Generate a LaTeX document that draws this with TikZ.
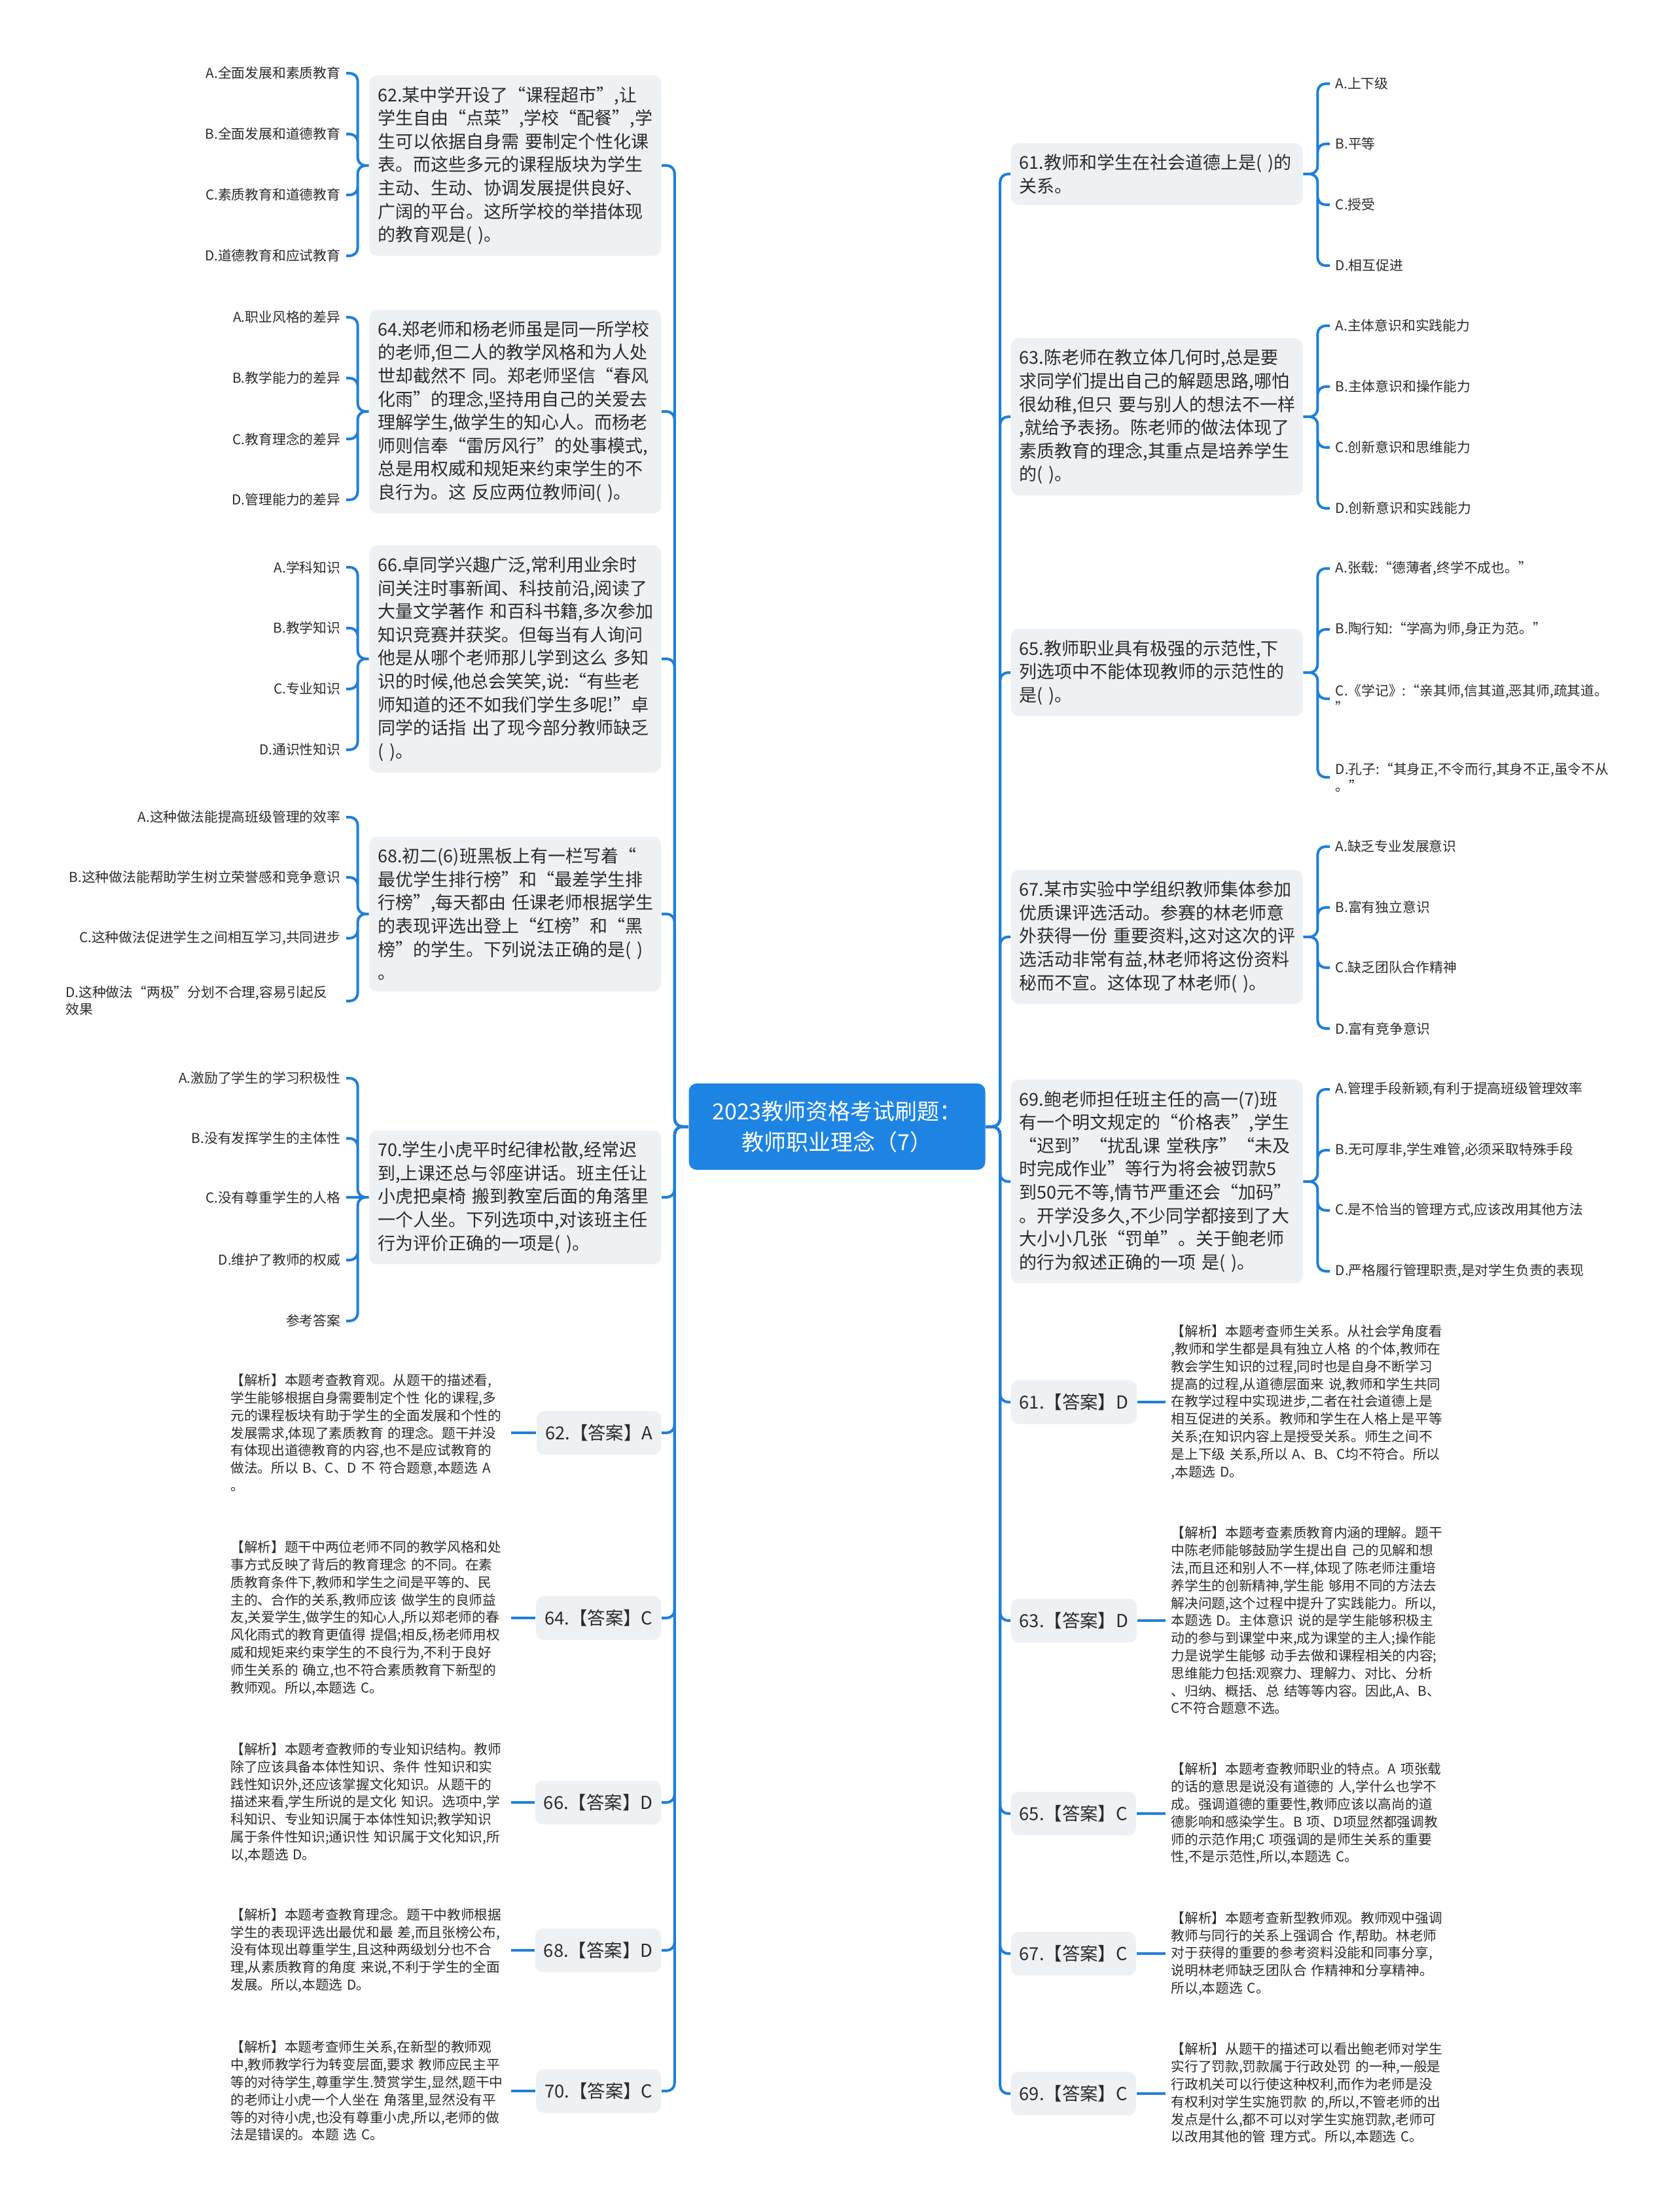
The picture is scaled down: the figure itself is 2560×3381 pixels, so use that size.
\documentclass[tikz,border=0pt]{standalone}
\usepackage{fontspec}
\setmainfont{Noto Sans CJK SC}
\usepackage{xcolor}
\usepackage{tikz}

\definecolor{linkblue}{HTML}{1F7FD8}
\definecolor{rootblue}{HTML}{1D84E3}
\definecolor{boxgray}{HTML}{EEF1F4}
\definecolor{textdark}{HTML}{2B2B2B}

\newcommand{\qfont}{\fontsize{2.7mm}{3.56mm}\selectfont}
\newcommand{\optfont}{\fontsize{2.08mm}{2.6mm}\selectfont}
\newcommand{\explfont}{\fontsize{2.07mm}{2.68mm}\selectfont}
\newcommand{\ansfont}{\fontsize{2.74mm}{3.3mm}\selectfont}
\newcommand{\rootfont}{\fontsize{3.4mm}{4.7mm}\selectfont}

\begin{document}
\begin{tikzpicture}[x=0.1mm, y=-0.1mm,
  link/.style={draw=linkblue, line width=0.4mm, rounded corners=1.2mm},
  rootbox/.style={fill=rootblue, text=white, rounded corners=1.2mm, minimum width=45.3mm, minimum height=13.2mm, align=center, font=\rootfont},
  qbox/.style={fill=boxgray, text=textdark, rounded corners=1.2mm, text width=42mm, align=left, inner xsep=1.3mm, inner ysep=1.7mm, font=\qfont},
  opt/.style={text=textdark, align=left, inner xsep=0.8mm, inner ysep=0.4mm, font=\optfont},
  ansbox/.style={fill=boxgray, text=textdark, rounded corners=1.2mm, inner xsep=1.3mm, minimum height=6.7mm, font=\ansfont},
  expl/.style={text=textdark, text width=42mm, align=left, inner xsep=0.8mm, font=\explfont}]
  \fill[white] (0,0) rectangle (2560,3381);
  \useasboundingbox (0,0) rectangle (2560,3381);

  % Root
  \node[rootbox] (root) at (1279,1722) {2023教师资格考试刷题：\\教师职业理念（7）};

  % Left questions
  \node[qbox, anchor=east] (q62) at (1011,253) {62.某中学开设了“课程超市”,让\\学生自由“点菜”,学校“配餐”,学\\生可以依据自身需~要制定个性化课\\表。而这些多元的课程版块为学生\\主动、生动、协调发展提供良好、\\广阔的平台。这所学校的举措体现\\的教育观是(~)。};
  \node[qbox, anchor=east] (q64) at (1011,629) {64.郑老师和杨老师虽是同一所学校\\的老师,但二人的教学风格和为人处\\世却截然不~同。郑老师坚信“春风\\化雨”的理念,坚持用自己的关爱去\\理解学生,做学生的知心人。而杨老\\师则信奉“雷厉风行”的处事模式,\\总是用权威和规矩来约束学生的不\\良行为。这~反应两位教师间(~)。};
  \node[qbox, anchor=east] (q66) at (1011,1007) {66.卓同学兴趣广泛,常利用业余时\\间关注时事新闻、科技前沿,阅读了\\大量文学著作~和百科书籍,多次参加\\知识竞赛并获奖。但每当有人询问\\他是从哪个老师那儿学到这么~多知\\识的时候,他总会笑笑,说:“有些老\\师知道的还不如我们学生多呢!”卓\\同学的话指~出了现今部分教师缺乏\\(~)。};
  \node[qbox, anchor=east] (q68) at (1011,1397) {68.初二(6)班黑板上有一栏写着“\\最优学生排行榜”和“最差学生排\\行榜”,每天都由~任课老师根据学生\\的表现评选出登上“红榜”和“黑\\榜”的学生。下列说法正确的是(~)\\。};
  \node[qbox, anchor=east] (q70) at (1011,1830) {70.学生小虎平时纪律松散,经常迟\\到,上课还总与邻座讲话。班主任让\\小虎把桌椅~搬到教室后面的角落里\\一个人坐。下列选项中,对该班主任\\行为评价正确的一项是(~)。};

  % Left options
  \node[opt, anchor=east] (q62a) at (529,112) {A.全面发展和素质教育};
  \node[opt, anchor=east] (q62b) at (529,205) {B.全面发展和道德教育};
  \node[opt, anchor=east] (q62c) at (529,298) {C.素质教育和道德教育};
  \node[opt, anchor=east] (q62d) at (529,391) {D.道德教育和应试教育};
  \node[opt, anchor=east] (q64a) at (529,485) {A.职业风格的差异};
  \node[opt, anchor=east] (q64b) at (529,578) {B.教学能力的差异};
  \node[opt, anchor=east] (q64c) at (529,671) {C.教育理念的差异};
  \node[opt, anchor=east] (q64d) at (529,764) {D.管理能力的差异};
  \node[opt, anchor=east] (q66a) at (529,867) {A.学科知识};
  \node[opt, anchor=east] (q66b) at (529,960) {B.教学知识};
  \node[opt, anchor=east] (q66c) at (529,1053) {C.专业知识};
  \node[opt, anchor=east] (q66d) at (529,1146) {D.通识性知识};
  \node[opt, anchor=east] (q68a) at (529,1249) {A.这种做法能提高班级管理的效率};
  \node[opt, anchor=east] (q68b) at (529,1341) {B.这种做法能帮助学生树立荣誉感和竞争意识};
  \node[opt, anchor=east] (q68c) at (529,1434) {C.这种做法促进学生之间相互学习,共同进步};
  \node[opt, anchor=east, text width=42mm] (q68d) at (529,1530) {D.这种做法“两极”分划不合理,容易引起反\\效果};
  \node[opt, anchor=east] (q70a) at (529,1648) {A.激励了学生的学习积极性};
  \node[opt, anchor=east] (q70b) at (529,1740) {B.没有发挥学生的主体性};
  \node[opt, anchor=east] (q70c) at (529,1830) {C.没有尊重学生的人格};
  \node[opt, anchor=east] (q70d) at (529,1926) {D.维护了教师的权威};
  \node[opt, anchor=east] (q70e) at (529,2019) {参考答案};

  % Left answers
  \node[ansbox, anchor=east] (a62) at (1011,2190) {62.【答案】A};
  \node[ansbox, anchor=east] (a64) at (1011,2473) {64.【答案】C};
  \node[ansbox, anchor=east] (a66) at (1011,2755) {66.【答案】D};
  \node[ansbox, anchor=east] (a68) at (1011,2981) {68.【答案】D};
  \node[ansbox, anchor=east] (a70) at (1011,3196) {70.【答案】C};

  % Left explanations
  \node[expl, anchor=east] (e62) at (781,2190) {【解析】本题考查教育观。从题干的描述看,\\学生能够根据自身需要制定个性 化的课程,多\\元的课程板块有助于学生的全面发展和个性的\\发展需求,体现了素质教育 的理念。题干并没\\有体现出道德教育的内容,也不是应试教育的\\做法。所以 B、C、D 不 符合题意,本题选 A\\。};
  \node[expl, anchor=east] (e64) at (781,2473) {【解析】题干中两位老师不同的教学风格和处\\事方式反映了背后的教育理念 的不同。在素\\质教育条件下,教师和学生之间是平等的、民\\主的、合作的关系,教师应该 做学生的良师益\\友,关爱学生,做学生的知心人,所以郑老师的春\\风化雨式的教育更值得 提倡;相反,杨老师用权\\威和规矩来约束学生的不良行为,不利于良好\\师生关系的 确立,也不符合素质教育下新型的\\教师观。所以,本题选 C。};
  \node[expl, anchor=east] (e66) at (781,2755) {【解析】本题考查教师的专业知识结构。教师\\除了应该具备本体性知识、条件 性知识和实\\践性知识外,还应该掌握文化知识。从题干的\\描述来看,学生所说的是文化 知识。选项中,学\\科知识、专业知识属于本体性知识;教学知识\\属于条件性知识;通识性 知识属于文化知识,所\\以,本题选 D。};
  \node[expl, anchor=east] (e68) at (781,2981) {【解析】本题考查教育理念。题干中教师根据\\学生的表现评选出最优和最 差,而且张榜公布,\\没有体现出尊重学生,且这种两级划分也不合\\理,从素质教育的角度 来说,不利于学生的全面\\发展。所以,本题选 D。};
  \node[expl, anchor=east] (e70) at (781,3196) {【解析】本题考查师生关系,在新型的教师观\\中,教师教学行为转变层面,要求 教师应民主平\\等的对待学生,尊重学生.赞赏学生,显然,题干中\\的老师让小虎一个人坐在 角落里,显然没有平\\等的对待小虎,也没有尊重小虎,所以,老师的做\\法是错误的。本题 选 C。};

  % Right questions
  \node[qbox, anchor=west] (q61) at (1544,266) {61.教师和学生在社会道德上是(~)的\\关系。};
  \node[qbox, anchor=west] (q63) at (1544,637) {63.陈老师在教立体几何时,总是要\\求同学们提出自己的解题思路,哪怕\\很幼稚,但只~要与别人的想法不一样\\,就给予表扬。陈老师的做法体现了\\素质教育的理念,其重点是培养学生\\的(~)。};
  \node[qbox, anchor=west] (q65) at (1544,1028) {65.教师职业具有极强的示范性,下\\列选项中不能体现教师的示范性的\\是(~)。};
  \node[qbox, anchor=west] (q67) at (1544,1432) {67.某市实验中学组织教师集体参加\\优质课评选活动。参赛的林老师意\\外获得一份~重要资料,这对这次的评\\选活动非常有益,林老师将这份资料\\秘而不宣。这体现了林老师(~)。};
  \node[qbox, anchor=west] (q69) at (1544,1806) {69.鲍老师担任班主任的高一(7)班\\有一个明文规定的“价格表”,学生\\“迟到”“扰乱课~堂秩序”“未及\\时完成作业”等行为将会被罚款5\\到50元不等,情节严重还会“加码”\\。开学没多久,不少同学都接到了大\\大小小几张“罚单”。关于鲍老师\\的行为叙述正确的一项~是(~)。};

  % Right options
  \node[opt, anchor=west] (q61a) at (2032,128) {A.上下级};
  \node[opt, anchor=west] (q61b) at (2032,220) {B.平等};
  \node[opt, anchor=west] (q61c) at (2032,313) {C.授受};
  \node[opt, anchor=west] (q61d) at (2032,406) {D.相互促进};
  \node[opt, anchor=west] (q63a) at (2032,498) {A.主体意识和实践能力};
  \node[opt, anchor=west] (q63b) at (2032,591) {B.主体意识和操作能力};
  \node[opt, anchor=west] (q63c) at (2032,684) {C.创新意识和思维能力};
  \node[opt, anchor=west] (q63d) at (2032,777) {D.创新意识和实践能力};
  \node[opt, anchor=west] (q65a) at (2032,869) {A.张载:“德薄者,终学不成也。”};
  \node[opt, anchor=west] (q65b) at (2032,962) {B.陶行知:“学高为师,身正为范。”};
  \node[opt, anchor=west] (q65c) at (2032,1068) {C.《学记》:“亲其师,信其道,恶其师,疏其道。\\”};
  \node[opt, anchor=west] (q65d) at (2032,1188) {D.孔子:“其身正,不令而行,其身不正,虽令不从\\。”};
  \node[opt, anchor=west] (q67a) at (2032,1294) {A.缺乏专业发展意识};
  \node[opt, anchor=west] (q67b) at (2032,1387) {B.富有独立意识};
  \node[opt, anchor=west] (q67c) at (2032,1479) {C.缺乏团队合作精神};
  \node[opt, anchor=west] (q67d) at (2032,1572) {D.富有竞争意识};
  \node[opt, anchor=west] (q69a) at (2032,1665) {A.管理手段新颖,有利于提高班级管理效率};
  \node[opt, anchor=west] (q69b) at (2032,1758) {B.无可厚非,学生难管,必须采取特殊手段};
  \node[opt, anchor=west] (q69c) at (2032,1850) {C.是不恰当的管理方式,应该改用其他方法};
  \node[opt, anchor=west] (q69d) at (2032,1943) {D.严格履行管理职责,是对学生负责的表现};

  % Right answers
  \node[ansbox, anchor=west] (a61) at (1544,2143) {61.【答案】D};
  \node[ansbox, anchor=west] (a63) at (1544,2477) {63.【答案】D};
  \node[ansbox, anchor=west] (a65) at (1544,2772) {65.【答案】C};
  \node[ansbox, anchor=west] (a67) at (1544,2986) {67.【答案】C};
  \node[ansbox, anchor=west] (a69) at (1544,3200) {69.【答案】C};

  % Right explanations
  \node[expl, anchor=west] (e61) at (1781,2143) {【解析】本题考查师生关系。从社会学角度看\\,教师和学生都是具有独立人格 的个体,教师在\\教会学生知识的过程,同时也是自身不断学习\\提高的过程,从道德层面来 说,教师和学生共同\\在教学过程中实现进步,二者在社会道德上是\\相互促进的关系。教师和学生在人格上是平等\\关系;在知识内容上是授受关系。师生之间不\\是上下级 关系,所以 A、B、C均不符合。所以\\,本题选 D。};
  \node[expl, anchor=west] (e63) at (1781,2477) {【解析】本题考查素质教育内涵的理解。题干\\中陈老师能够鼓励学生提出自 己的见解和想\\法,而且还和别人不一样,体现了陈老师注重培\\养学生的创新精神,学生能 够用不同的方法去\\解决问题,这个过程中提升了实践能力。所以,\\本题选 D。主体意识 说的是学生能够积极主\\动的参与到课堂中来,成为课堂的主人;操作能\\力是说学生能够 动手去做和课程相关的内容;\\思维能力包括:观察力、理解力、对比、分析\\、归纳、概括、总 结等等内容。因此,A、B、\\C不符合题意不选。};
  \node[expl, anchor=west] (e65) at (1781,2772) {【解析】本题考查教师职业的特点。A 项张载\\的话的意思是说没有道德的 人,学什么也学不\\成。强调道德的重要性,教师应该以高尚的道\\德影响和感染学生。B 项、D项显然都强调教\\师的示范作用;C 项强调的是师生关系的重要\\性,不是示范性,所以,本题选 C。};
  \node[expl, anchor=west] (e67) at (1781,2986) {【解析】本题考查新型教师观。教师观中强调\\教师与同行的关系上强调合 作,帮助。林老师\\对于获得的重要的参考资料没能和同事分享,\\说明林老师缺乏团队合 作精神和分享精神。\\所以,本题选 C。};
  \node[expl, anchor=west] (e69) at (1781,3200) {【解析】从题干的描述可以看出鲍老师对学生\\实行了罚款,罚款属于行政处罚 的一种,一般是\\行政机关可以行使这种权利,而作为老师是没\\有权利对学生实施罚款 的,所以,不管老师的出\\发点是什么,都不可以对学生实施罚款,老师可\\以改用其他的管 理方式。所以,本题选 C。};

  % Root to the left branches
  \draw[link] (root.west) -- ++(-21,0) |- (q62.east);
  \draw[link] (root.west) -- ++(-21,0) |- (q64.east);
  \draw[link] (root.west) -- ++(-21,0) |- (q66.east);
  \draw[link] (root.west) -- ++(-21,0) |- (q68.east);
  \draw[link] (root.west) -- ++(-21,0) |- (q70.east);
  \draw[link] (root.west) -- ++(-21,0) |- (a62.east);
  \draw[link] (root.west) -- ++(-21,0) |- (a64.east);
  \draw[link] (root.west) -- ++(-21,0) |- (a66.east);
  \draw[link] (root.west) -- ++(-21,0) |- (a68.east);
  \draw[link] (root.west) -- ++(-21,0) |- (a70.east);

  % Root to the right branches
  \draw[link] (root.east) -- ++(22,0) |- (q61.west);
  \draw[link] (root.east) -- ++(22,0) |- (q63.west);
  \draw[link] (root.east) -- ++(22,0) |- (q65.west);
  \draw[link] (root.east) -- ++(22,0) |- (q67.west);
  \draw[link] (root.east) -- ++(22,0) |- (q69.west);
  \draw[link] (root.east) -- ++(22,0) |- (a61.west);
  \draw[link] (root.east) -- ++(22,0) |- (a63.west);
  \draw[link] (root.east) -- ++(22,0) |- (a65.west);
  \draw[link] (root.east) -- ++(22,0) |- (a67.west);
  \draw[link] (root.east) -- ++(22,0) |- (a69.west);

  % Left options
  \draw[link] (q62.west) -- ++(-17,0) |- (q62a.east) (q62.west) -- ++(-17,0) |- (q62b.east)
              (q62.west) -- ++(-17,0) |- (q62c.east) (q62.west) -- ++(-17,0) |- (q62d.east);
  \draw[link] (q64.west) -- ++(-17,0) |- (q64a.east) (q64.west) -- ++(-17,0) |- (q64b.east)
              (q64.west) -- ++(-17,0) |- (q64c.east) (q64.west) -- ++(-17,0) |- (q64d.east);
  \draw[link] (q66.west) -- ++(-17,0) |- (q66a.east) (q66.west) -- ++(-17,0) |- (q66b.east)
              (q66.west) -- ++(-17,0) |- (q66c.east) (q66.west) -- ++(-17,0) |- (q66d.east);
  \draw[link] (q68.west) -- ++(-17,0) |- (q68a.east) (q68.west) -- ++(-17,0) |- (q68b.east)
              (q68.west) -- ++(-17,0) |- (q68c.east) (q68.west) -- ++(-17,0) |- (q68d.east);
  \draw[link] (q70.west) -- ++(-17,0) |- (q70a.east) (q70.west) -- ++(-17,0) |- (q70b.east)
              (q70.west) -- (q70c.east) (q70.west) -- ++(-17,0) |- (q70d.east)
              (q70.west) -- ++(-17,0) |- (q70e.east);

  % Right options
  \draw[link] (q61.east) -- ++(22,0) |- (q61a.west) (q61.east) -- ++(22,0) |- (q61b.west)
              (q61.east) -- ++(22,0) |- (q61c.west) (q61.east) -- ++(22,0) |- (q61d.west);
  \draw[link] (q63.east) -- ++(22,0) |- (q63a.west) (q63.east) -- ++(22,0) |- (q63b.west)
              (q63.east) -- ++(22,0) |- (q63c.west) (q63.east) -- ++(22,0) |- (q63d.west);
  \draw[link] (q65.east) -- ++(22,0) |- (q65a.west) (q65.east) -- ++(22,0) |- (q65b.west)
              (q65.east) -- ++(22,0) |- (q65c.west) (q65.east) -- ++(22,0) |- (q65d.west);
  \draw[link] (q67.east) -- ++(22,0) |- (q67a.west) (q67.east) -- ++(22,0) |- (q67b.west)
              (q67.east) -- ++(22,0) |- (q67c.west) (q67.east) -- ++(22,0) |- (q67d.west);
  \draw[link] (q69.east) -- ++(22,0) |- (q69a.west) (q69.east) -- ++(22,0) |- (q69b.west)
              (q69.east) -- ++(22,0) |- (q69c.west) (q69.east) -- ++(22,0) |- (q69d.west);

  % Answers to explanations
  \draw[link] (a62.west) -- (e62.east);
  \draw[link] (a64.west) -- (e64.east);
  \draw[link] (a66.west) -- (e66.east);
  \draw[link] (a68.west) -- (e68.east);
  \draw[link] (a70.west) -- (e70.east);
  \draw[link] (a61.east) -- (e61.west);
  \draw[link] (a63.east) -- (e63.west);
  \draw[link] (a65.east) -- (e65.west);
  \draw[link] (a67.east) -- (e67.west);
  \draw[link] (a69.east) -- (e69.west);
\end{tikzpicture}
\end{document}
